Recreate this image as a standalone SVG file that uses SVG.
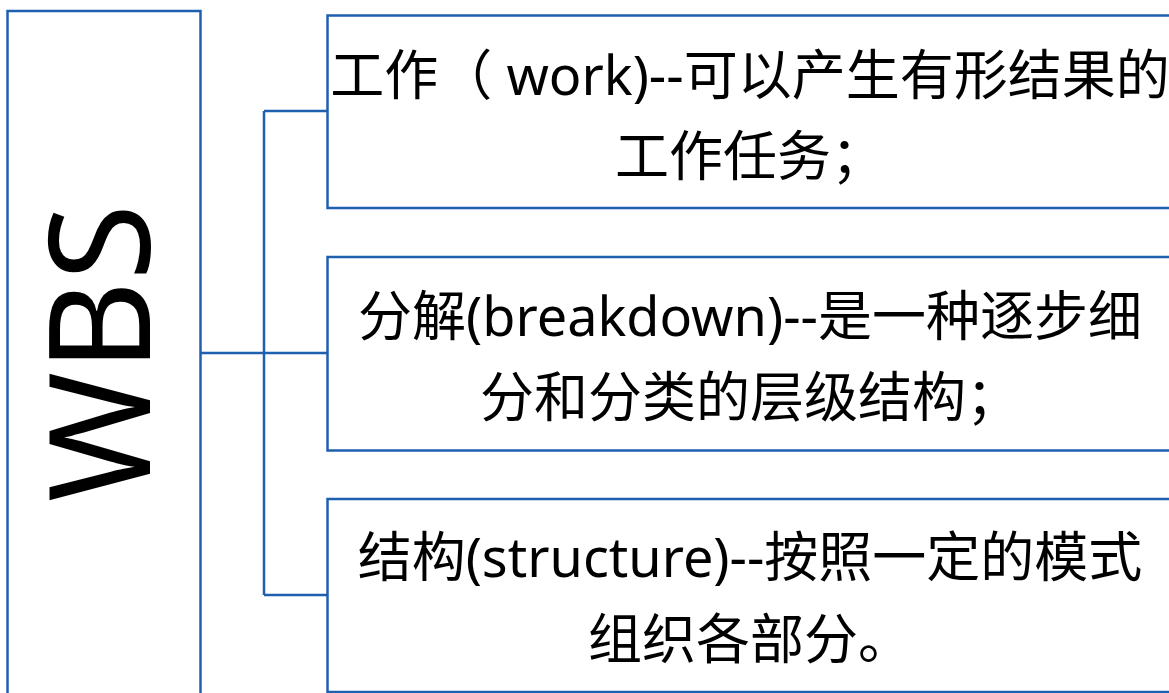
<svg xmlns="http://www.w3.org/2000/svg" width="1169" height="693" viewBox="0 0 1169 693">
<style>
.box{fill:#fff;stroke:#1f5fb0;stroke-width:2.5}
.ln{fill:none;stroke:#1f5fb0;stroke-width:2.5}
.t{font-family:"Noto Sans","Noto Sans CJK SC",sans-serif;font-size:54px;fill:#000;text-anchor:middle}
.big{font-family:"Noto Sans","Noto Sans CJK SC",sans-serif;font-size:140px;fill:#000;text-anchor:middle}
</style>
<rect width="1169" height="693" fill="#fff"/>
<g id="connectors">
<path class="ln" d="M201 353H327M264 111V595M264 111H327M264 595H327"/>
</g>
<g id="wbs">
<rect class="box" x="7.5" y="11" width="193" height="700"/>
<text class="big" transform="translate(150,353) rotate(-90)">WBS</text>
</g>
<g id="work">
<rect class="box" x="327.5" y="15.5" width="860" height="192.5"/>
<text class="t" x="750" y="95">工作（ work)--可以产生有形结果的</text>
<text class="t" x="750" y="176">工作任务；</text>
</g>
<g id="breakdown">
<rect class="box" x="327.5" y="257" width="860" height="193.5"/>
<text class="t" x="750" y="336">分解(breakdown)--是一种逐步细</text>
<text class="t" x="750" y="417">分和分类的层级结构；</text>
</g>
<g id="structure">
<rect class="box" x="327.5" y="499" width="860" height="193"/>
<text class="t" x="750" y="577">结构(structure)--按照一定的模式</text>
<text class="t" x="750" y="659">组织各部分。</text>
</g>
</svg>
